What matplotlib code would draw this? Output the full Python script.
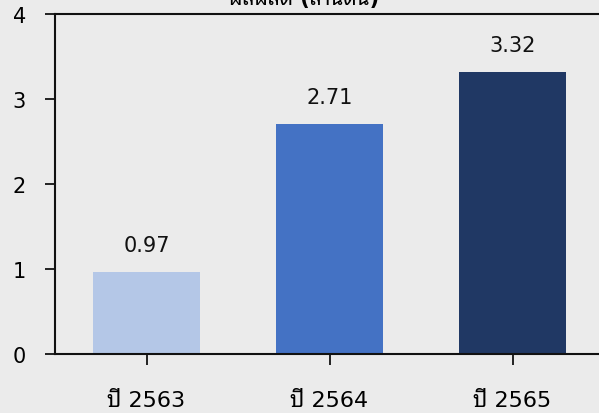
import matplotlib
matplotlib.use("Agg")
import matplotlib.pyplot as plt

# ผลผลิตรายปี
years = ["ปี 2563", "ปี 2564", "ปี 2565"]
values = [0.97, 2.71, 3.32]
bar_colors = ["#b4c7e7", "#4472c4", "#203864"]
title = "ผลผลิต (ล้านตัน)"

plt.rcParams["font.family"] = ["DejaVu Sans", "Noto Sans Thai Looped"]
bg = "#ebebeb"

fig = plt.figure(figsize=(5.99, 4.14), dpi=100, facecolor=bg)
ax = fig.add_axes([55 / 599, 59 / 414, 549 / 599, 340 / 414])
ax.set_facecolor(bg)

x = range(len(years))
bars = ax.bar(x, values, width=0.59, color=bar_colors)

for b, v in zip(bars, values):
    ax.annotate(f"{v:.2f}", (b.get_x() + b.get_width() / 2, v),
                xytext=(0, 15), textcoords="offset points",
                ha="center", va="baseline", fontsize=15, color="#111111")

ax.set_xlim(-0.5, 2.5)
ax.set_ylim(0, 4)
ax.set_yticks([0, 1, 2, 3, 4])
ax.set_xticks(list(x))
ax.set_xticklabels(years)

for s in ["left", "top", "bottom"]:
    ax.spines[s].set_linewidth(1.5)
    ax.spines[s].set_color("#111111")
ax.spines["right"].set_visible(False)

ax.tick_params(axis="y", length=7, width=1.2, pad=14, labelsize=15)
ax.tick_params(axis="x", length=8, width=1.2, pad=18, labelsize=16)

# title sits mostly above the canvas edge
fig.text(0.508, 1 - 5 / 414, title, ha="center", va="baseline",
         fontsize=15, fontweight="bold")

fig.savefig("out.png", dpi=100, facecolor=bg)
